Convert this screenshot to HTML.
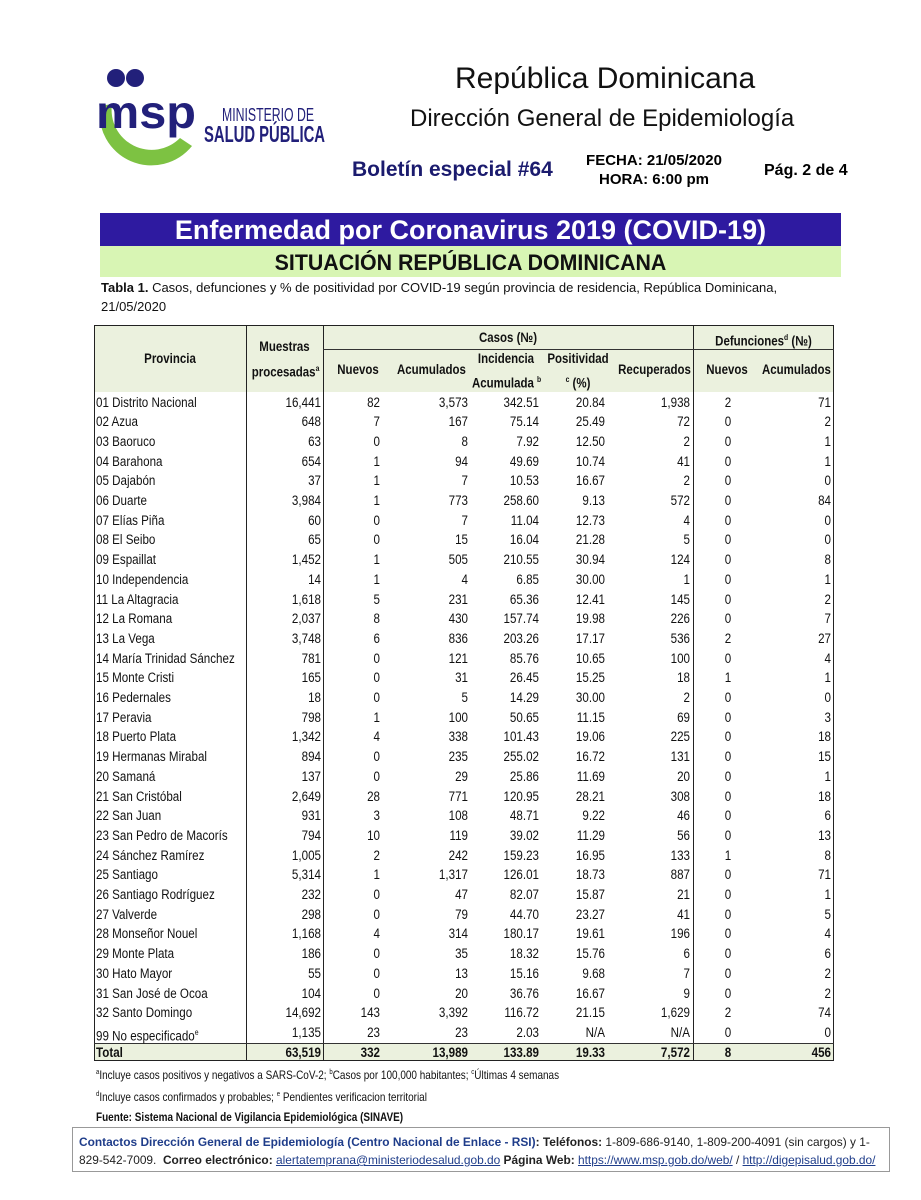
<!DOCTYPE html>
<html><head><meta charset="utf-8"><style>
body{margin:0;width:921px;height:1200px;background:#fff;position:relative;overflow:hidden;font-family:"Liberation Sans",sans-serif;}
.a{position:absolute;white-space:nowrap}
.c{position:absolute;white-space:nowrap;font-size:13.5px;line-height:19px;color:#111}
.r{transform:scaleX(0.86);transform-origin:right center;text-align:right}
.l{transform:scaleX(0.86);transform-origin:left center}
.m{transform:scaleX(0.86);transform-origin:center center;text-align:center}
.h{position:absolute;font-weight:bold;font-size:13.5px;line-height:21px;color:#111;text-align:center;white-space:nowrap;transform:scaleX(0.85)}
.vl{position:absolute;width:1.3px;background:#222}
.hl{position:absolute;height:1px;background:#333}
</style></head><body>
<svg class="a" style="left:94px;top:66px" width="240" height="100" viewBox="0 0 240 100">
<path d="M6 40 A52 52 0 0 0 98 80 L86 72 A40 40 0 0 1 18 38 Z" fill="#7dc242"/>
<circle cx="22" cy="12" r="9" fill="#22207a"/><circle cx="41" cy="12" r="9" fill="#22207a"/>
<text x="2" y="62" font-family="Liberation Sans" font-weight="bold" font-size="46" fill="#22207a" textLength="100" lengthAdjust="spacingAndGlyphs">msp</text>
<text x="128" y="55" font-family="Liberation Sans" font-size="18" fill="#22207a" textLength="92" lengthAdjust="spacingAndGlyphs">MINISTERIO DE</text>
<text x="110" y="76" font-family="Liberation Sans" font-weight="bold" font-size="23" fill="#22207a" textLength="121" lengthAdjust="spacingAndGlyphs">SALUD PÚBLICA</text>
</svg>
<div class="a" style="left:455px;top:62px;font-size:30px;color:#111">República Dominicana</div>
<div class="a" style="left:410px;top:105px;font-size:24px;color:#111">Dirección General de Epidemiología</div>
<div class="a" style="left:352px;top:158px;font-size:21px;font-weight:bold;color:#1b1b6e">Boletín especial #64</div>
<div class="a" style="left:581px;top:151px;font-size:15px;font-weight:bold;line-height:19px;text-align:center;width:146px">FECHA: 21/05/2020<br>HORA: 6:00 pm</div>
<div class="a" style="left:764px;top:162px;font-size:16px;font-weight:bold">Pág. 2 de 4</div>
<div class="a" style="left:100px;top:213px;width:741px;height:33px;background:#2e1aa0;color:#fff;font-size:27px;font-weight:bold;text-align:center;line-height:34px">Enfermedad por Coronavirus 2019 (COVID-19)</div>
<div class="a" style="left:100px;top:246px;width:741px;height:31px;background:#d8f5b4;"></div>
<div class="a" style="left:100px;top:246px;width:741px;font-size:22px;font-weight:bold;text-align:center;line-height:33px;color:#111;transform:scaleX(0.97)">SITUACIÓN REPÚBLICA DOMINICANA</div>
<div class="a" style="left:101px;top:278px;font-size:13px;line-height:19px;color:#111"><b>Tabla 1.</b> Casos, defunciones y % de positividad por COVID-19 según provincia de residencia, República Dominicana,<br>21/05/2020</div>

<div class="a" style="left:94px;top:325px;width:740px;height:67px;background:#ebf1de"></div>
<div class="a" style="left:94px;top:1043px;width:740px;height:18px;background:#ebf1de"></div>
<div class="a" style="left:94px;top:325px;width:740px;height:736px;border:1.3px solid #222;box-sizing:border-box"></div>
<div class="vl" style="left:246px;top:325px;height:736px"></div>
<div class="vl" style="left:323px;top:325px;height:736px"></div>
<div class="vl" style="left:693px;top:325px;height:736px"></div>
<div class="hl" style="left:323px;top:349px;width:511px"></div>
<div class="hl" style="left:94px;top:1043px;width:740px"></div>

<div class="h" style="left:94px;top:348px;width:152px">Provincia</div>
<div class="h" style="left:246px;top:336px;width:77px;line-height:22px">Muestras<br>procesadas<sup style="font-size:8px">a</sup></div>
<div class="h" style="left:323px;top:327px;width:370px">Casos (№)</div>
<div class="h" style="left:693px;top:327px;width:141px">Defunciones<sup style="font-size:8px">d</sup> (№)</div>
<div class="h" style="left:323px;top:359px;width:70px">Nuevos</div>
<div class="h" style="left:391px;top:359px;width:80px">Acumulados</div>
<div class="h" style="left:466px;top:348px;width:80px">Incidencia<br>Acumulada <sup style="font-size:8px">b</sup></div>
<div class="h" style="left:540px;top:348px;width:76px">Positividad<br><sup style="font-size:8px">c</sup> (%)</div>
<div class="h" style="left:612px;top:359px;width:82px">Recuperados</div>
<div class="h" style="left:693px;top:359px;width:68px">Nuevos</div>
<div class="h" style="left:756px;top:359px;width:80px">Acumulados</div>
<div id="b"></div>
<script>
var d=`01 Distrito Nacional|16,441|82|3,573|342.51|20.84|1,938|2|71
02 Azua|648|7|167|75.14|25.49|72|0|2
03 Baoruco|63|0|8|7.92|12.50|2|0|1
04 Barahona|654|1|94|49.69|10.74|41|0|1
05 Dajabón|37|1|7|10.53|16.67|2|0|0
06 Duarte|3,984|1|773|258.60|9.13|572|0|84
07 Elías Piña|60|0|7|11.04|12.73|4|0|0
08 El Seibo|65|0|15|16.04|21.28|5|0|0
09 Espaillat|1,452|1|505|210.55|30.94|124|0|8
10 Independencia|14|1|4|6.85|30.00|1|0|1
11 La Altagracia|1,618|5|231|65.36|12.41|145|0|2
12 La Romana|2,037|8|430|157.74|19.98|226|0|7
13 La Vega|3,748|6|836|203.26|17.17|536|2|27
14 María Trinidad Sánchez|781|0|121|85.76|10.65|100|0|4
15 Monte Cristi|165|0|31|26.45|15.25|18|1|1
16 Pedernales|18|0|5|14.29|30.00|2|0|0
17 Peravia|798|1|100|50.65|11.15|69|0|3
18 Puerto Plata|1,342|4|338|101.43|19.06|225|0|18
19 Hermanas Mirabal|894|0|235|255.02|16.72|131|0|15
20 Samaná|137|0|29|25.86|11.69|20|0|1
21 San Cristóbal|2,649|28|771|120.95|28.21|308|0|18
22 San Juan|931|3|108|48.71|9.22|46|0|6
23 San Pedro de Macorís|794|10|119|39.02|11.29|56|0|13
24 Sánchez Ramírez|1,005|2|242|159.23|16.95|133|1|8
25 Santiago|5,314|1|1,317|126.01|18.73|887|0|71
26 Santiago Rodríguez|232|0|47|82.07|15.87|21|0|1
27 Valverde|298|0|79|44.70|23.27|41|0|5
28 Monseñor Nouel|1,168|4|314|180.17|19.61|196|0|4
29 Monte Plata|186|0|35|18.32|15.76|6|0|6
30 Hato Mayor|55|0|13|15.16|9.68|7|0|2
31 San José de Ocoa|104|0|20|36.76|16.67|9|0|2
32 Santo Domingo|14,692|143|3,392|116.72|21.15|1,629|2|74
99 No especificado<sup style="font-size:8px">e</sup>|1,135|23|23|2.03|N/A|N/A|0|0`;
var rights=[0,321,380,468,539,605,690,0,831];
var h='';
function row(a,top,bold){a.forEach(function(v,i){var st='top:'+top+'px;'+(bold?'font-weight:bold;':'');
 if(i==0)h+='<div class="c l" style="'+st+'left:96px">'+v+'</div>';
 else if(i==7)h+='<div class="c m" style="'+st+'left:708px;width:40px">'+v+'</div>';
 else h+='<div class="c r" style="'+st+'left:'+(rights[i]-100)+'px;width:100px">'+v+'</div>';});}
d.split('\n').forEach(function(l,k){row(l.split('|'),392.5+k*19.7,false)});
row(['Total','63,519','332','13,989','133.89','19.33','7,572','8','456'],1042.5,true);
document.getElementById('b').innerHTML=h;
</script>
<div class="a" style="left:96px;top:1063px;font-size:11.6px;line-height:19.5px;color:#111;transform:scaleX(0.86);transform-origin:left top"><sup style="font-size:7px">a</sup>Incluye casos positivos y negativos a SARS-CoV-2; <sup style="font-size:7px">b</sup>Casos por 100,000 habitantes; <sup style="font-size:7px">c</sup>Últimas 4 semanas<br><sup style="font-size:7px">d</sup>Incluye casos confirmados y probables; <sup style="font-size:7px">e</sup> Pendientes verificacion territorial<br><b>Fuente: Sistema Nacional de Vigilancia Epidemiológica (SINAVE)</b></div>
<div class="a" style="left:72px;top:1127px;width:818px;height:45px;border:1px solid #999;box-sizing:border-box;font-size:11.9px;line-height:18px;padding:5px 0 0 6px;white-space:normal;color:#222"><b style="color:#1f3d8a">Contactos Dirección General de Epidemiología (Centro Nacional de Enlace - RSI)</b><b>: Teléfonos:</b> 1-809-686-9140, 1-809-200-4091 (sin cargos) y 1-829-542-7009. &nbsp;<b>Correo electrónico:</b> <u style="color:#1f3d8a">alertatemprana@ministeriodesalud.gob.do</u> <b>Página Web:</b> <u style="color:#1f3d8a">https://www.msp.gob.do/web/</u> / <u style="color:#1f3d8a">http://digepisalud.gob.do/</u></div>
</body></html>
